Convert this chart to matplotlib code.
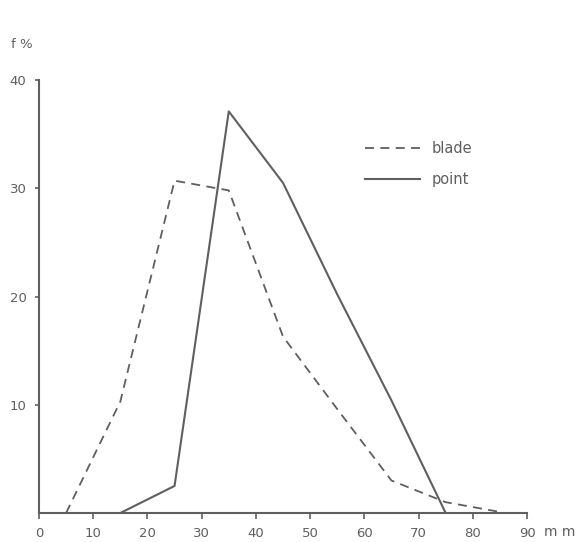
import matplotlib
matplotlib.use('Agg')
import matplotlib.pyplot as plt

GREY = '#5f5f5f'

# class midpoints (mm) and frequencies (%)
blade_x = [5, 15, 25, 35, 45, 55, 65, 75, 85]
blade_f = [0, 10.3, 30.7, 29.8, 16.3, 9.6, 3.0, 1.0, 0.1]

point_x = [15, 25, 35, 45, 55, 65, 75]
point_f = [0, 2.5, 37.1, 30.5, 20.2, 10.4, 0]

xticks = [0, 10, 20, 30, 40, 50, 60, 70, 80, 90]
yticks = [10, 20, 30, 40]

fig = plt.figure(figsize=(5.84, 5.42), dpi=100)
ax = fig.add_axes([39 / 584, 29 / 542, 488 / 584, 433 / 542])

ax.plot(blade_x, blade_f, color=GREY, lw=1.3, ls=(0, (5, 3.5)), label='blade')
ax.plot(point_x, point_f, color=GREY, lw=1.5, label='point')

ax.set_xlim(0, 90)
ax.set_ylim(0, 40)
ax.set_xticks(xticks)
ax.set_yticks(yticks)
ax.tick_params(axis='both', colors=GREY, labelcolor=GREY, labelsize=9.5,
               width=1.2, length=4, direction='out')
ax.tick_params(axis='y', length=3, pad=6)
ax.tick_params(axis='x', pad=6)

for side in ['top', 'right']:
    ax.spines[side].set_visible(False)
for side in ['left', 'bottom']:
    ax.spines[side].set_color(GREY)
    ax.spines[side].set_linewidth(1.5)

# unit label next to the last x tick
ax.text(1.068, -0.043, 'm m', transform=ax.transAxes, ha='center', va='center',
        fontsize=10, color=GREY)
fig.text(0.019, 0.917, 'f %', ha='left', va='center', fontsize=9.5, color=GREY)

leg = ax.legend(loc='upper left', bbox_to_anchor=(0.668, 0.86), frameon=False,
                handlelength=3.8, handletextpad=0.8, labelspacing=1.1,
                borderpad=0, borderaxespad=0, fontsize=10.5)
for t in leg.get_texts():
    t.set_color(GREY)

fig.savefig('out.png', dpi=100)
